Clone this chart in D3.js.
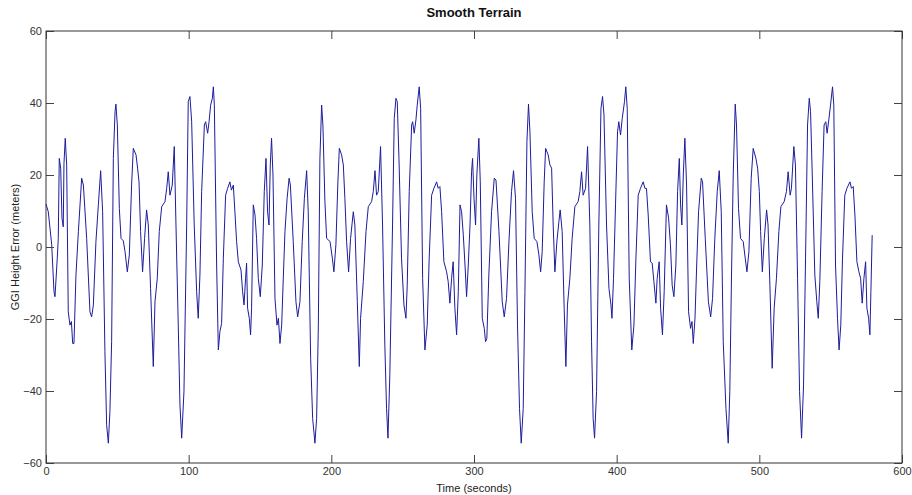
<!DOCTYPE html>
<html>
<head>
<meta charset="utf-8">
<script src="https://cdn.jsdelivr.net/npm/d3@7"></script>
<style>
  body { margin: 0; background: #fff; }
  text { font-family: "Liberation Sans", Arial, sans-serif; fill: #222; }
  .axis text { font-family: "Liberation Sans Narrow", "Liberation Sans", Arial, sans-serif; font-size: 11px; fill: #333; }
  .axis line { stroke: #444; }
</style>
</head>
<body>
<svg id="chart" width="912" height="495"></svg>
<script>
var title = "Smooth Terrain",
    xLabel = "Time (seconds)",
    yLabel = "GGI Height Error (meters)";

var xTicks = [0, 100, 200, 300, 400, 500, 600],
    yTicks = [-60, -40, -20, 0, 20, 40, 60];

var seconds = [
  0, 1.6, 4, 5.6, 6.3, 7.9, 8.6, 9.3, 10.3, 11.2, 12.1, 12.6, 13.5, 14.5, 15.6, 16.8, 17.8, 18.7, 19.6, 21,
  22.7, 25, 26.2, 28.5, 30.8, 32, 33.2, 35, 36.7, 38.3, 39.7, 41.3, 42.5, 43.7, 44.8, 46, 47.2, 48.4, 49, 50,
  51.4, 52.6, 54.2, 55.4, 57, 58.4, 60, 61.2, 63.1, 64.2, 65.2, 66.3, 67.7, 69.1, 70.5, 71.7, 73.3, 75.2, 76.4, 78,
  79.4, 81.1, 83.4, 84.6, 85.7, 86.9, 88.5, 89.9, 91.1, 92.7, 93.9, 95.1, 96.7, 98.6,
  99.7, 100.9, 102.1, 103.9, 105.6, 106.7, 107.9, 109.1, 111, 111.9, 113.3, 114.3, 115.4, 116.6, 117.3, 118, 119.6, 120.8, 121.9, 123.1,
  124.3, 125.9, 127.3, 128.9, 130, 131.3, 132.4, 133.6, 134.8, 136.7, 137.8, 138.8, 139.9, 140.6, 141.3, 142.5, 143.4, 144.1, 145.3, 146.5,
  147.6, 148.8, 150.2, 151.6, 153, 154.2, 155.3, 156.3, 157.2, 158.1, 159.1, 160.5, 161.9, 162.9, 164, 165.2, 166.4, 167.5, 169, 170.4,
  171.3, 173.3, 175.2, 176.4, 178, 179.6, 181.1, 182.7, 183.8, 185.5, 186.9, 188.5, 189.7, 190.9, 192, 193.2, 194.1, 195.5, 196.7, 199.1, 200.7,
  201.8, 203.2, 204.6, 205.6, 207.2, 208.4, 209.5, 210.7, 212.1, 213.5, 215.4, 216.5, 218.2, 219.6, 220.5, 222.4, 224.3, 225.9, 228.2, 229.4,
  230.6, 231.7, 232.9, 234.5, 235.9, 237.5, 238.7, 239.7, 241, 242.9, 244.1, 245.3, 246.2, 247.4, 249.2, 250.9, 252.3, 253.2, 254.6, 256.3,
  257, 258.1, 259.3, 260.2, 261.6, 262.6, 264, 265.6, 267.2, 268.6, 270.3, 271.9, 273.8, 274.9, 276.1, 277.3, 278.9, 280.8, 281.9, 283.1,
  284.3, 285.4, 286.6, 287.8, 289, 290.2, 291.3, 292.5, 293.7, 294.8, 296, 297.2, 298.3, 299, 300, 301.1, 302,
  303.4, 304.4, 305.8, 307.2, 308.1, 309, 310.4, 312.3, 314.2, 315.4, 317.5, 319.8, 321.2, 322.8, 324.5, 326.3, 327.7, 329.1, 330.5, 331.9,
  333.1, 334.5, 335.7, 337.1, 338.2, 339.2, 340.8, 342.2, 344.1, 345.5, 346.7, 347.8, 349.2, 350.2, 352, 353.2, 354.4, 355.5, 356.7, 358.1,
  359.5, 360.4, 361.8, 363.2, 364.4, 365.5, 367.2, 368.8, 370.7, 373, 374.2, 375.4, 376.5, 378.2, 379.6, 381.2, 382.4, 383.5, 384.5, 385.9,
  387.5, 389, 390.1, 391.1, 392.9, 394.6, 396, 396.7, 397.8, 399.2, 400.6, 401.5, 402.7, 403.9,
  405.5, 406.4, 407.4, 408.8, 410.6, 412.1, 413.5, 415.1, 416.7, 418.6, 419.8, 420.9, 422.1, 423.7, 424.9, 426.1, 427.5, 428.4, 429.8, 430.8,
  432.1, 433.3, 434.9, 436.4, 437.7, 438.9, 440.1, 441.5, 442.7, 443.9, 444.8, 445.7, 446.7, 447.8, 449, 450.4, 451.8, 452.8, 453.7, 454.9,
  456.1, 457.4, 459.3, 460.2, 462.1, 464.3, 465.9, 467.2, 468.8, 470.5, 471.9, 473.3, 474.7, 476.6, 478.2, 479.3, 480.5, 481.7, 483.1, 484,
  485.4, 486.8, 488.7, 490.1, 491.3, 492.7, 494.3, 495.7, 497.6, 498.8, 500, 500.9, 502.1, 503.5, 505.1,
  506.1, 507.4, 509, 510.4, 512, 513.7, 515.1, 517.4, 519, 520.2, 521.6, 522.5, 524.2, 525.3, 526.8, 528.2, 529.6, 531, 532.4, 533.8,
  535, 535.9, 537.1, 538.9, 540.3, 541.3, 542.4, 544, 545.4, 546.6, 547.5, 548.7, 549.9, 551.3, 552.2, 553.4, 554.8, 555.9, 557.1, 558.3,
  559.9, 561.4, 563.5, 564.6, 565.8, 567, 568.4, 569.8, 571, 572.1, 573.3, 574.5, 575.4, 576.6, 577.5, 578.2, 579.1
];

var heightError = [
  11.9, 9.8, 0.6, -12.4, -13.8, -3.1, 2.4, 24.6, 21.9, 8, 5.6, 23.2, 30.2, 22.8, -18, -21.7, -20.7, -26.8, -26.8, -7.8,
  4.3, 19.1, 17.2, 2.4, -18, -19.4, -16.1, 1.5, 11.7, 21.2, 9.8, -29, -49.4, -54.5, -45.7, -26.3, 24.6, 37.6, 39.7, 33.9,
  10.7, 2.4, 1.7, -1.3, -6.9, -2.2, 17.2, 27.4, 25.6, 21.9, 18.1, 4.3, -6.9, 2.4, 10.3, 6.1, -11.5, -33.2, -15.2, -8.7,
  4.3, 11.2, 12.6, 16.3, 20.9, 14.4, 17.2, 27.9, 6.1, -21.7, -43.9, -53.1, -40.2, 6.1,
  40.4, 41.8, 34.8, 6.1, -12.4, -19.8, -7.8, 15.4, 33.9, 34.8, 31.6, 34.8, 39.4, 41.3, 44.5, 39.4, -5, -28.6, -23.5, -21.2,
  -3.1, 14.4, 16.3, 18.1, 15.8, 17.2, 9.8, 1.5, -4.1, -6.4, -12.4, -16.1, -8.7, -4.5, -17, -19.8, -24.4, -17, 11.7, 8.9,
  2.4, -8.7, -13.8, -5, 15.4, 24.6, 9.8, 6.1, 22.8, 30.2, 20, -14.3, -21.7, -19.8, -26.8, -21.7, -7.8, 4.3, 13.5, 19.1,
  17.2, 1.5, -15.2, -19.4, -15.2, 1.5, 13.5, 21.2, 9.8, -30.9, -47.6, -54.5, -47.6, -21.7, 24.6, 39.4, 33.9, 12.6, 2.4, 1.5, -3.1,
  -6.9, 0.6, 18.1, 27.4, 25.6, 22.8, 13.5, 1.5, -6.9, 2.4, 9.8, 6.1, -15.2, -33.2, -19.8, -9.6, 4.3, 11.2, 12.6, 15.4,
  21.2, 14.4, 15.4, 27.9, 6.1, -27.2, -44.8, -53.1, -35.6, 6.1, 35.7, 41.3, 40.4, 24.6, -3.1, -16.1, -19.8, -10.6, 15.4, 33.9,
  34.8, 31.6, 35.3, 39.4, 44.5, 38.5, -8.7, -28.6, -21.7, -3.1, 14.4, 16.3, 18.1, 16.3, 16.8, 9.8, -4.1, -6.9, -9.6, -15.6,
  -8.7, -4.1, -17, -24.4, -12.4, 11.7, 9.8, 3.3, -5, -13.8, -5, 6.1, 20.9, 24.6, 13.5, 6.1, 20,
  30.2, 18.1, -19.8, -22.6, -26.3, -25.4, -7.8, 9.8, 19.1, 18.6, 4.3, -15.2, -19.4, -14.3, 1.5, 15.4, 21.2, 13.5, -21.7, -44.8,
  -54.5, -44.8, -12.4, 29.3, 39.7, 32, 9.8, 2.4, 1.5, -2.2, -6.9, -1.3, 18.1, 27.4, 25.6, 22.8, 21.9, 6.1, -6.9, 1.5,
  7, 10.3, 4.3, -17, -33.2, -16.1, -8.7, 2.4, 11.2, 12.6, 15.4, 20.9, 14.4, 16.3, 27.9, 6.1, -26.3, -47.6, -53.1, -40.2,
  6.1, 38.5, 41.8, 36.7, 6.1, -11.5, -16.1, -19.8, -8.7, 11.7, 32, 34.8, 31.1, 35.7,
  40.4, 44.5, 38.5, -8.7, -28.6, -21.7, -3.1, 14.4, 16.3, 18.1, 16.3, 16.3, 8.9, -4.1, -4.5, -9.6, -15.6, -8.7, -4.1, -17,
  -24.4, -12.4, 11.7, 8, 0.6, -10.6, -13.8, -5, 15.4, 24.6, 11.7, 6.1, 20, 30.2, 17.2, -18, -22.6, -20.7, -26.8, -19.8,
  -5, 9.8, 19.1, 18.1, 2.4, -15.2, -19.4, -14.3, 2.4, 15.4, 21.2, 9.8, -26.3, -44.8, -54.5, -40.2, -7.8, 20, 39.7, 33.9,
  10.7, 2.4, 1.5, -3.1, -6.9, -1.3, 19.1, 27.4, 24.6, 21.9, 15.4, 4.3, -6.9, 2.4, 10.3,
  6.1, -10.6, -33.7, -17, -8.7, 4.3, 11.2, 12.6, 15.4, 20.9, 14.4, 16.3, 27.9, 22.8, -8.7, -40.2, -53.1, -38.3, -3.1, 33.9,
  41.3, 37.6, 20, -7.8, -15.2, -19.8, -9.6, 15.4, 33.9, 34.8, 31.6, 35.3, 39.4, 44.5, 39.4, -5, -19.8, -28.6, -21.7, -3.1,
  14.4, 16.3, 18.1, 16.3, 16.8, 8.9, -4.1, -6.9, -8.7, -15.6, -8.7, -4.1, -17, -19.8, -24.4, -12.4, 3.3
];

var svg = d3.select("#chart"),
    margin = {top: 31, right: 10, bottom: 32, left: 46},
    width = svg.attr("width") - margin.left - margin.right,
    height = svg.attr("height") - margin.top - margin.bottom;

var x = d3.scaleLinear().domain([0, 600]).range([0, width]),
    y = d3.scaleLinear().domain([-60, 60]).range([height, 0]);

var g = svg.append("g")
    .attr("transform", "translate(" + margin.left + "," + margin.top + ")");

var data = seconds.map(function(t, i) { return {t: t, v: heightError[i]}; });

var line = d3.line()
    .x(function(d) { return x(d.t); })
    .y(function(d) { return y(d.v); });

g.append("path")
    .datum(data)
    .attr("fill", "none")
    .attr("stroke", "#1c1c9c")
    .attr("stroke-width", 1)
    .attr("stroke-linejoin", "round")
    .attr("d", line);

// matlab style: ticks point inward on all four sides
g.append("g")
    .attr("class", "axis axis--x")
    .attr("transform", "translate(0," + height + ")")
    .call(d3.axisBottom(x).tickValues(xTicks).tickSizeInner(-8).tickSizeOuter(0).tickPadding(4));

g.append("g")
    .attr("class", "axis axis--x2")
    .call(d3.axisTop(x).tickValues(xTicks).tickSizeInner(-8).tickSizeOuter(0).tickFormat(""));

g.append("g")
    .attr("class", "axis axis--y")
    .call(d3.axisLeft(y).tickValues(yTicks).tickSizeInner(-8).tickSizeOuter(0).tickPadding(4));

g.append("g")
    .attr("class", "axis axis--y2")
    .attr("transform", "translate(" + width + ",0)")
    .call(d3.axisRight(y).tickValues(yTicks).tickSizeInner(-8).tickSizeOuter(0).tickFormat(""));

g.selectAll(".axis .domain").remove();

g.append("rect")
    .attr("width", width)
    .attr("height", height)
    .attr("fill", "none")
    .attr("stroke", "#333")
    .attr("stroke-width", 1);

g.append("text")
    .attr("x", width / 2)
    .attr("y", -14)
    .style("font-size", "13px")
    .style("font-weight", "bold")
    .style("fill", "#111")
    .style("text-anchor", "middle")
    .text(title);

g.append("text")
    .attr("x", width / 2)
    .attr("y", height + 29)
    .style("font-size", "11px")
    .style("text-anchor", "middle")
    .text(xLabel);

g.append("text")
    .attr("transform", "translate(-27," + (height / 2) + ") rotate(-90)")
    .style("font-size", "11px")
    .style("text-anchor", "middle")
    .text(yLabel);
</script>
</body>
</html>
